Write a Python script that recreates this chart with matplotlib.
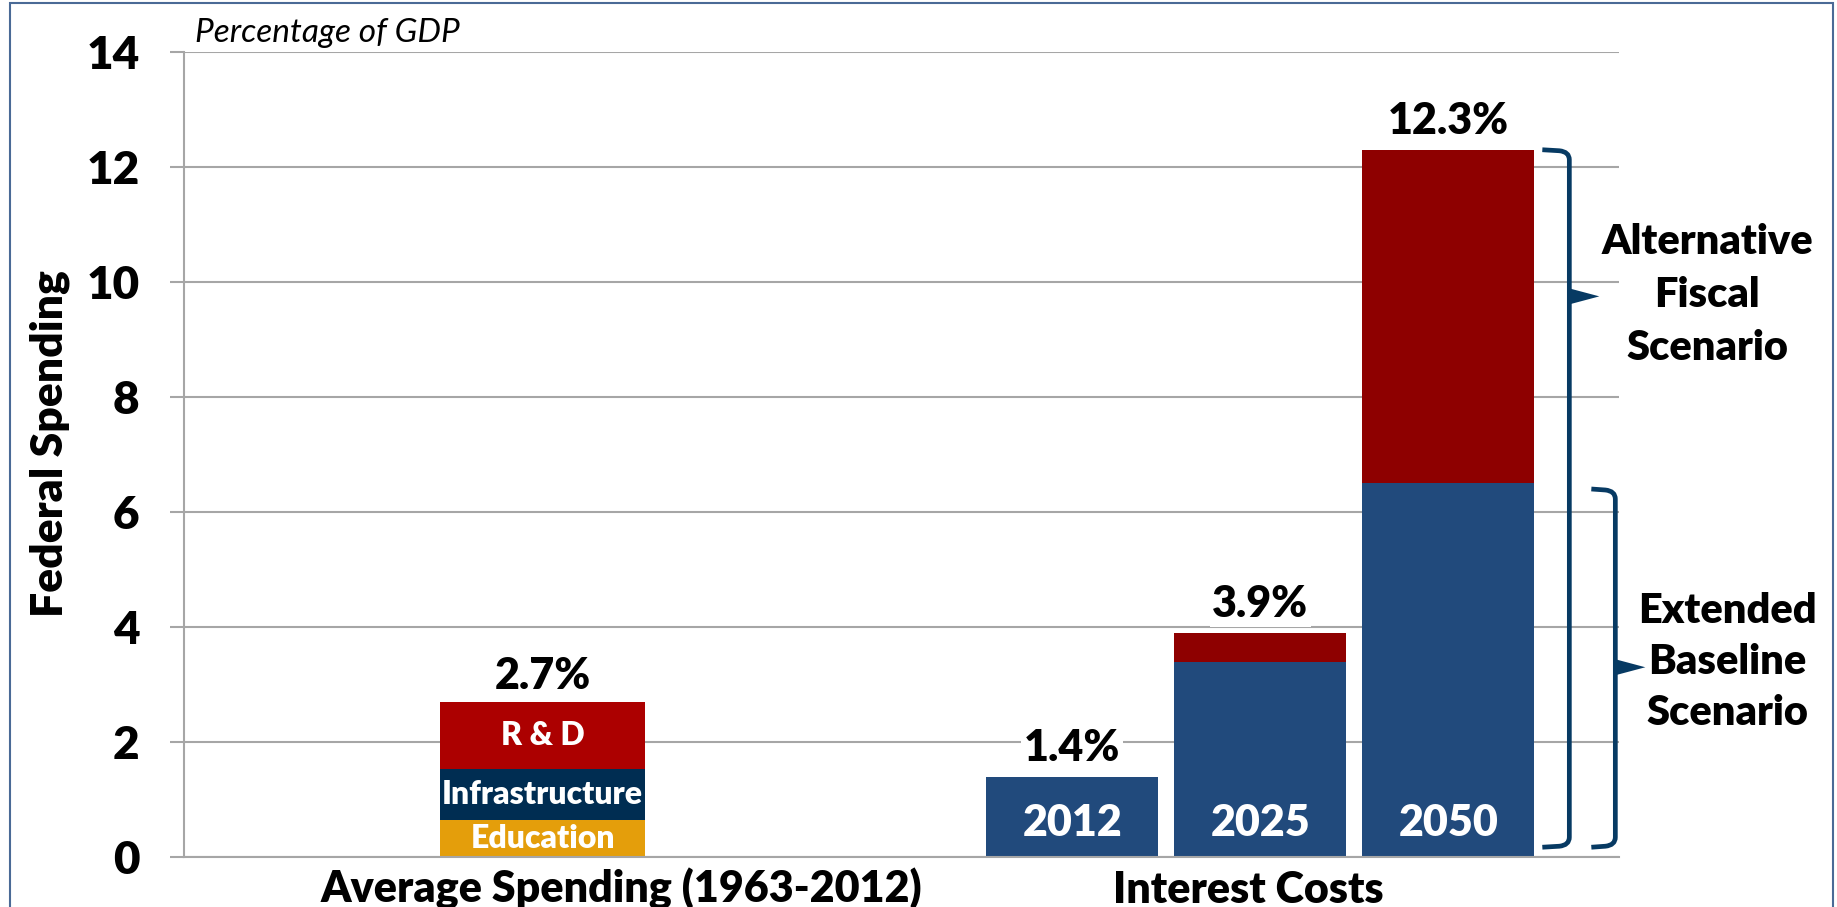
import numpy as np
import matplotlib.pyplot as plt
from matplotlib.path import Path
from matplotlib.patches import PathPatch, Polygon, Rectangle
from matplotlib.transforms import blended_transform_factory

# average federal spending on investment, 1963-2012 (% of GDP)
avg_parts = ["Education", "Infrastructure", "R & D"]
avg_values = [0.65, 0.88, 1.17]
avg_colors = ["#e49e0b", "#002d52", "#ac0000"]

# net interest costs under the two CBO scenarios (% of GDP)
years = ["2012", "2025", "2050"]
baseline = [1.4, 3.4, 6.5]
alternative = [1.4, 3.9, 12.3]

categories = ["Average Spending (1963-2012)", "Interest Costs"]
yticks = [0, 2, 4, 6, 8, 10, 12, 14]

BLUE = "#214a7c"
DARKRED = "#8e0000"
NAVY = "#073a63"
GRID = "#a6a6a6"
HEAVY = "heavy"

plt.rcParams["font.family"] = ["Lato", "DejaVu Sans"]

W, H = 1837, 907
fig = plt.figure(figsize=(W / 100, H / 100), dpi=100)
ax = fig.add_axes([184 / W, 1 - 857 / H, (1619 - 184) / W, (857 - 52) / H])

ax.set_xlim(-0.5, 1.5)
ax.set_ylim(0, 14)
width = 0.24
avg_width = 0.286
step = 0.262

# stacked average-spending bar
bottom = 0
for name, val, col in zip(avg_parts, avg_values, avg_colors):
    ax.bar(0, val, avg_width, bottom=bottom, color=col, zorder=2)
    ax.text(0, bottom + val / 2, name, ha="center", va="center", color="white",
            fontsize=23, fontweight=HEAVY, zorder=3)
    bottom += val
ax.text(0, bottom + 0.1, f"{bottom:.1f}%", ha="center", va="bottom",
        fontsize=31, fontweight=HEAVY, zorder=3)

# interest cost bars: baseline in blue, alternative extra in dark red
xs = 1 + step * (np.arange(len(years)) - 1)
extra = np.array(alternative) - np.array(baseline)
ax.bar(xs, baseline, width, color=BLUE, zorder=2)
ax.bar(xs, extra, width, bottom=baseline, color=DARKRED, zorder=2)
for x, yr, tot in zip(xs, years, alternative):
    ax.text(x, 0.6, yr, ha="center", va="center", color="white",
            fontsize=31, fontweight=HEAVY, zorder=3)
    ax.text(x, tot + 0.15, f"{tot:.1f}%", ha="center", va="bottom",
            fontsize=31, fontweight=HEAVY, zorder=3,
            bbox=dict(facecolor="white", edgecolor="none", pad=2))

# axes styling
ax.set_yticks(yticks)
ax.set_yticklabels([str(t) for t in yticks], fontsize=33, fontweight=HEAVY)
ax.set_xticks([])
ax.grid(axis="y", color=GRID, linewidth=1.5, zorder=0)
ax.set_axisbelow(True)
ax.tick_params(axis="y", length=10, width=1.5, color=GRID, pad=22)
for side in ["top", "right"]:
    ax.spines[side].set_visible(False)
for side in ["left", "bottom"]:
    ax.spines[side].set_color(GRID)
    ax.spines[side].set_linewidth(1.5)

trans = blended_transform_factory(ax.transData, fig.transFigure)
cat_x = [0.11, 0.984]
for cx, label in zip(cat_x, categories):
    ax.text(cx, 1 - 903 / H, label, transform=trans, ha="center", va="baseline",
            fontsize=31, fontweight=HEAVY)

fig.text(50 / W, 1 - 444 / H, "Federal Spending", rotation=90, ha="center",
         va="center", fontsize=32, fontweight=HEAVY)
fig.text(195 / W, 1 - 42 / H, "Percentage of GDP", ha="left", va="baseline",
         fontsize=24, style="italic")


# brackets to the right of the 2050 bar
def bracket(y_top, y_bot, x_start, x_line, y_arrow, tip):
    to_disp = ax.transData.transform
    x_right = to_disp((xs[-1] + width / 2, 0))[0]
    _, yt = to_disp((0, y_top))
    _, yb = to_disp((0, y_bot))
    _, ya = to_disp((0, y_arrow))
    x0, xv = x_right + x_start, x_right + x_line
    r = 10
    verts = [(x0, yt), (xv - r, yt - 1), (xv, yt - 2), (xv, yt - r),
             (xv, yb + r), (xv, yb + 2), (xv - r, yb + 1), (x0, yb)]
    codes = [Path.MOVETO, Path.LINETO, Path.CURVE3, Path.CURVE3,
             Path.LINETO, Path.CURVE3, Path.CURVE3, Path.LINETO]
    inv = fig.transFigure.inverted().transform
    verts = [inv(v) for v in verts]
    fig.patches.append(PathPatch(Path(verts, codes), facecolor="none", edgecolor=NAVY,
                                 linewidth=3.4, transform=fig.transFigure,
                                 capstyle="butt", joinstyle="round"))
    tri = [inv((xv, ya + 8)), inv((xv + tip, ya)), inv((xv, ya - 8))]
    fig.patches.append(Polygon(tri, closed=True, facecolor=NAVY, edgecolor="none",
                               transform=fig.transFigure))


bracket(alternative[-1], 0.17, 8, 35, 9.75, 30)
bracket(baseline[-1] - 0.1, 0.17, 57, 81, 3.3, 30)

for lines, cx, cy, ls in [("Alternative\nFiscal\nScenario", 1707, 295, 1.5),
                          ("Extended\nBaseline\nScenario", 1727, 662, 1.42)]:
    fig.text(cx / W, 1 - cy / H, lines, ha="center", va="center", fontsize=30,
             fontweight=HEAVY, linespacing=ls)

# outer frame
fig.patches.append(Rectangle((10 / W, -0.05), (1833 - 10) / W, 1.05 - 3 / H,
                             transform=fig.transFigure, facecolor="none",
                             edgecolor="#4a6a96", linewidth=1.5))

fig.savefig("out.png", dpi=100)
